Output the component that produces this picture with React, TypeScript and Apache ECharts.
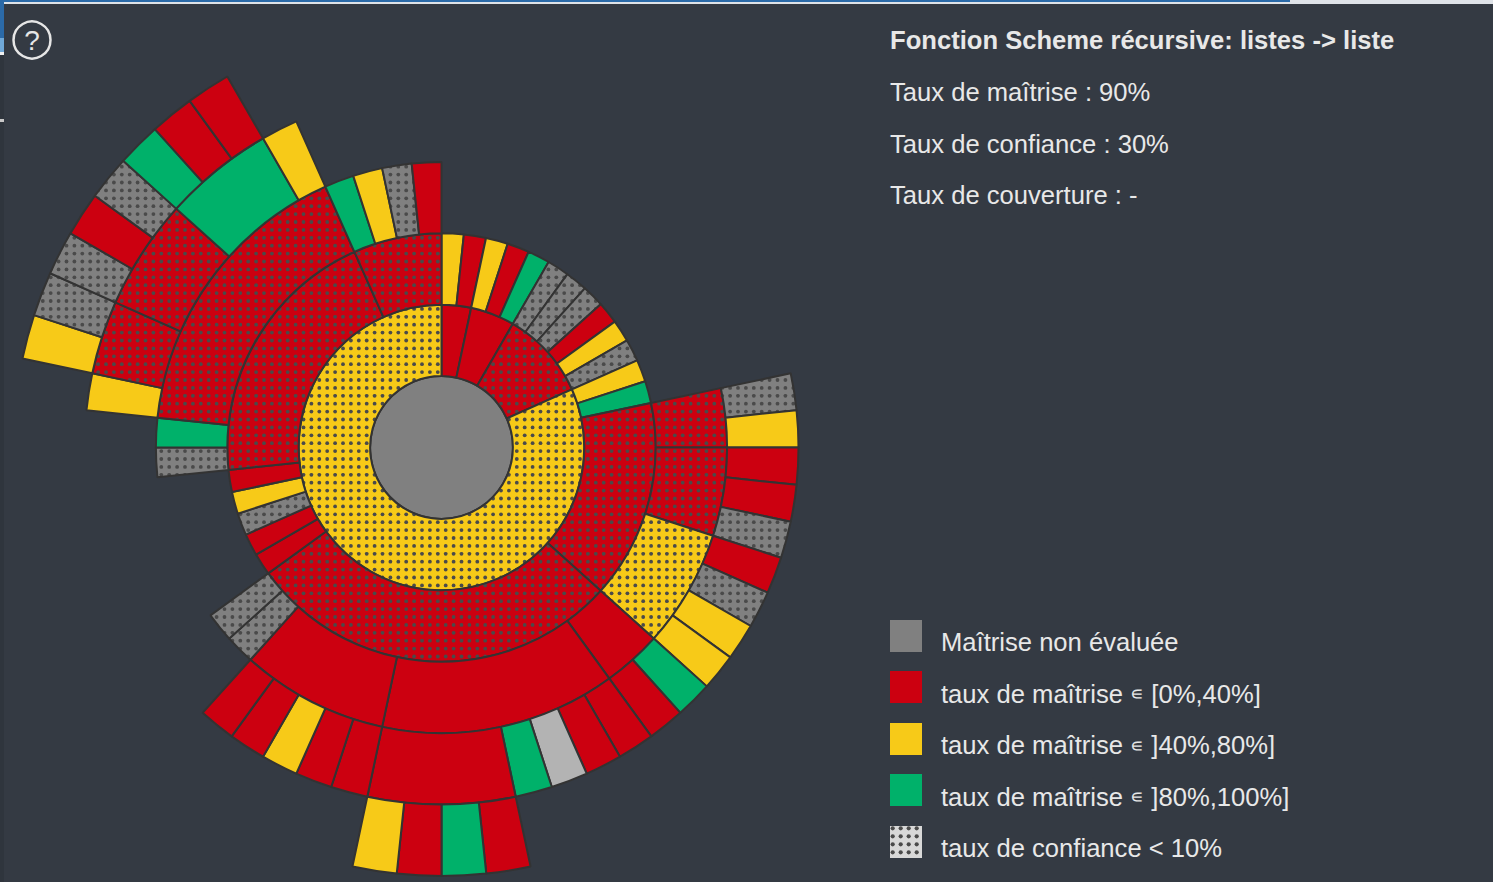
import React, { useEffect, useRef } from "react";
import * as echarts from "echarts";

// Codes: R red, Y yellow, G green, N grey, L light grey; "d" = taux de confiance < 10% (dotted)
type Branch = [string, Branch[]?];
const leaves = (...codes: string[]): Branch[] => codes.map((c) => [c]);

const ringA: Branch[] = leaves("Y", "R");
const ringB: Branch[] = leaves("Y", "R", "G");
const ringC: Branch[] = leaves("Nd", "Nd", "Nd", "R", "Y", "Nd");

const east: Branch[] = [
  ["Rd", leaves("Nd", "Y")],
  ["Rd", leaves("R", "R", "Nd")],
  ["Yd", leaves("R", "Nd", "Y", "Y")],
];
const south: Branch[] = [
  ["R", leaves("G", "R")],
  ["R", [["R"], ["R"], ["L"], ["G"], ["R", leaves("R", "G", "R", "Y")]]],
  ["R", leaves("R", "R", "Y", "R", "R")],
  ["Nd"],
  ["Nd"],
];
const west: Branch[] = [
  ["Nd"],
  ["G"],
  [
    "Rd",
    [
      ["Y"],
      ["Rd", leaves("Y", "Nd")],
      ["Rd", leaves("Nd", "R", "Nd")],
      ["G", leaves("G", "R", "R")],
      ["Y"],
    ],
  ],
];
const north: Branch[] = leaves("G", "Y", "Nd", "R");

const ringYellow: Branch[] = [
  ["Y"],
  ["G"],
  ["Rd", east],
  ["Rd", south],
  ["R"],
  ["R"],
  ["Nd"],
  ["Y"],
  ["R"],
  ["Rd", west],
  ["Rd", north],
];

const firstRing: Branch[] = [
  ["R", ringA],
  ["R", ringB],
  ["Rd", ringC],
  ["Yd", ringYellow],
];

const legendLabels = [
  "Maîtrise non évaluée",
  "taux de maîtrise {e|∊} [0%,40%]",
  "taux de maîtrise {e|∊} ]40%,80%]",
  "taux de maîtrise {e|∊} ]80%,100%]",
  "taux de confiance < 10%",
];
const infoTitle = "Fonction Scheme récursive: listes -> liste";
const infoLines = ["Taux de maîtrise : 90%", "Taux de confiance : 30%", "Taux de couverture : -"];

const COLORS: Record<string, string> = {
  R: "#cc0010",
  Y: "#f7ca18",
  G: "#00b16a",
  N: "#808080",
  L: "#b3b3b3",
};
const BG = "#343a43";
const STROKE = "#333333";
const CX = 441.5;
const CY = 447.5;
const OUTER = 428.4;
const FONT = "'Liberation Sans', Arial, sans-serif";

function dotPattern(base: string, dot: string, step: number, n: number, ox: number, oy: number, r: number) {
  const size = Math.round(step * n);
  const canvas = document.createElement("canvas");
  canvas.width = size;
  canvas.height = size;
  const ctx = canvas.getContext("2d")!;
  ctx.fillStyle = base;
  ctx.fillRect(0, 0, size, size);
  ctx.fillStyle = dot;
  for (let i = -1; i <= n; i++) {
    for (let j = -1; j <= n; j++) {
      ctx.beginPath();
      ctx.arc(ox + i * step, oy + j * step, r, 0, Math.PI * 2);
      ctx.fill();
    }
  }
  return { image: canvas, repeat: "repeat", imageWidth: size, imageHeight: size };
}

function dottedFill(code: string) {
  return dotPattern(COLORS[code], "#4a4a4a", 7.9, 10, 3.3, 0.8, 1.9);
}

export default function App() {
  const ref = useRef<HTMLDivElement>(null);
  useEffect(() => {
    document.body.style.margin = "0";
    document.body.style.overflow = "hidden";
    document.body.style.background = BG;
    const chart = echarts.init(ref.current!, null, { renderer: "svg" });

    const fills: Record<string, any> = {
      Rd: dottedFill("R"),
      Yd: dottedFill("Y"),
      Nd: dottedFill("N"),
    };
    const toNode = ([code, kids]: Branch): any => {
      const node: any = {
        name: code,
        itemStyle: { color: fills[code] ?? COLORS[code] },
      };
      if (kids && kids.length) node.children = kids.map(toNode);
      else node.value = 1;
      return node;
    };

    const legendColors = [COLORS.N, COLORS.R, COLORS.Y, COLORS.G];
    const legendY = [620, 671, 723, 774, 826];
    const strip = (x: number, y: number, width: number, height: number, fill: string) => ({
      type: "rect",
      silent: true,
      shape: { x, y, width, height },
      style: { fill },
    });
    const graphics: any[] = [
      strip(0, 0, 1290, 2, "#2b6aa8"),
      strip(1290, 0, 203, 2, "#dfe3e8"),
      strip(4, 2, 1489, 2, "#dfe3e8"),
      strip(0, 2, 4, 36, "#2b6aa8"),
      strip(0, 38, 4, 14, "#6fa8d8"),
      strip(0, 52, 4, 3, "#f0f0f0"),
      strip(0, 55, 4, 827, "#2f353d"),
      strip(0, 119, 4, 3, "#c8c8c8"),
      {
        type: "circle",
        silent: true,
        shape: { cx: 32, cy: 40, r: 18.5 },
        style: { fill: "none", stroke: "#e6e6e6", lineWidth: 2.5 },
      },
      {
        type: "text",
        silent: true,
        x: 32,
        y: 40,
        style: {
          text: "?",
          fill: "#e6e6e6",
          font: `28px ${FONT}`,
          align: "center",
          verticalAlign: "middle",
        },
      },
      {
        type: "text",
        silent: true,
        x: 890,
        y: 40,
        style: { text: infoTitle, fill: "#e8e8e8", font: `bold 25.6px ${FONT}`, verticalAlign: "middle" },
      },
      ...infoLines.map((t, i) => ({
        type: "text",
        silent: true,
        x: 890,
        y: 92 + i * 51.5,
        style: { text: t, fill: "#e8e8e8", font: `25.6px ${FONT}`, verticalAlign: "middle" },
      })),
      ...legendLabels.map((t, i) => ({
        type: "text",
        silent: true,
        x: 941,
        y: 642 + i * 51.5,
        style: {
          text: t,
          fill: "#e8e8e8",
          font: `25.6px ${FONT}`,
          verticalAlign: "middle",
          rich: { e: { fill: "#e8e8e8", font: `19px ${FONT}` } },
        },
      })),
      ...legendColors.map((c, i) => ({
        type: "rect",
        silent: true,
        shape: { x: 890, y: legendY[i], width: 32, height: 32 },
        style: { fill: c },
      })),
      {
        type: "rect",
        silent: true,
        shape: { x: 890, y: legendY[4], width: 32, height: 32 },
        style: { fill: dotPattern("#d8d8d8", "#4a4a4a", 8, 4, 4.7, 4.3, 2.1) },
      },
    ];

    chart.setOption({
      animation: false,
      backgroundColor: BG,
      graphic: { elements: graphics },
      series: [
        {
          type: "sunburst",
          silent: true,
          sort: null,
          center: [CX, CY],
          radius: [0, OUTER],
          startAngle: 90,
          clockwise: true,
          nodeClick: false,
          label: { show: false },
          itemStyle: { borderColor: STROKE, borderWidth: 2 },
          emphasis: { disabled: true },
          data: [
            {
              name: "root",
              itemStyle: { color: COLORS.N },
              children: firstRing.map(toNode),
            },
          ],
        },
      ],
    });
    return () => chart.dispose();
  }, []);
  return <div ref={ref} style={{ width: 1493, height: 882 }} />;
}
